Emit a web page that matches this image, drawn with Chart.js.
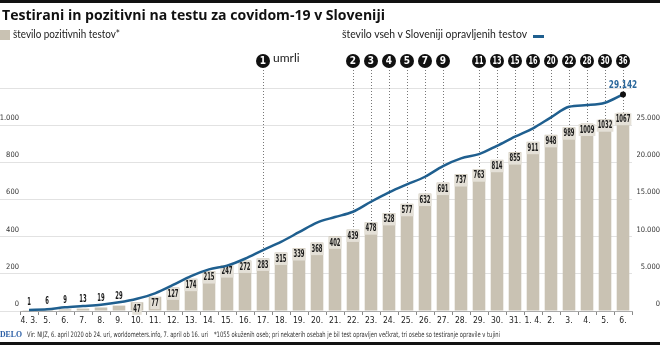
<!DOCTYPE html>
<html><head><meta charset="utf-8">
<script src="https://cdn.jsdelivr.net/npm/chart.js@4"></script>
<style>
html,body{margin:0;padding:0;background:#fff;}
#wrap{position:relative;width:660px;height:345px;overflow:hidden;background:#fff;}
#c{position:absolute;left:0;top:0;}
.bar{position:absolute;left:0;width:660px;height:3px;background:#111;}
.t{position:absolute;white-space:nowrap;transform-origin:0 0;line-height:1;}
.n{font-family:'DejaVu Sans Condensed',Roboto,sans-serif;}
</style></head><body>
<div id="wrap">
<canvas id="c" width="660" height="345"></canvas>
<div class="bar" style="top:0"></div>
<div class="t" data-w="383" style="left:2px;top:7px;font-family:'Open Sans';font-weight:700;font-size:15px;color:#111;">Testirani in pozitivni na testu za covidom-19 v Sloveniji</div>
<div style="position:absolute;left:0;top:30px;width:10px;height:10px;background:#c9c2b3"></div>
<div class="t" data-w="107" style="left:13px;top:28px;font-family:Lato;font-size:11px;color:#222">število pozitivnih testov*</div>
<div class="t" data-w="185" style="left:342px;top:28px;font-family:Lato;font-size:11px;color:#222">število vseh v Sloveniji opravljenih testov</div>
<div style="position:absolute;left:533px;top:35px;width:11px;height:3px;background:#1f5f8f"></div>
<div class="t" data-w="22" style="left:0;top:330px;font-family:'Liberation Serif';font-weight:700;font-size:9px;color:#2a5ea5;">DELO</div>
<div class="t n" data-w="181" style="left:27px;top:331px;font-size:7.5px;color:#333">Vir: NIJZ, 6. april 2020 ob 24. uri, worldometers.info, 7. april ob 16. uri</div>
<div class="t n" data-w="286" style="left:214px;top:331px;font-size:7.5px;color:#333">*1055 okuženih oseb; pri nekaterih osebah je bil test opravljen večkrat, tri osebe so testiranje opravile v tujini</div>
<div class="bar" style="top:342px"></div>
</div>
<script>
const categories = ['4. 3.','5.','6.','7.','8.','9.','10.','11.','12.','13.','14.','15.','16.','17.','18.','19.','20.','21.','22.','23.','24.','25.','26.','27.','28.','29.','30.','31.','1. 4.','2.','3.','4.','5.','6.'];
const positiveTests = [1,6,9,13,19,29,47,77,127,174,215,247,272,283,315,339,368,402,439,478,528,577,632,691,737,763,814,855,911,948,989,1009,1032,1067];
const totalTests = [150,230,500,670,850,1170,1650,2380,3500,4700,5600,6100,7030,8200,9300,10600,11900,12640,13350,14700,15960,17040,18060,19500,20540,21100,22230,23450,24570,26050,27480,27700,28020,29142];
const deathIndex = [13,18,19,20,21,22,23,25,26,27,28,29,30,31,32,33];
const deathCounts = ['1','2','3','4','5','7','9','11','13','15','16','20','22','28','30','36'];
const leftMax = 1200, leftStep = 200;
const rightMax = 30000, rightStep = 5000;

const BAR = '#c9c2b3', LINE = '#1f5f8f';
const NARROW = "'DejaVu Sans Condensed',Roboto,sans-serif";
const fmt = n => String(n).replace(/\B(?=(\d{3})+(?!\d))/g, '.');

document.querySelectorAll('.t[data-w]').forEach(el => {
  const w = el.getBoundingClientRect().width;
  el.style.transform = 'scaleX(' + (parseFloat(el.dataset.w) / w) + ')';
});

function drawText(ctx, text, x, y, font, sx, color) {
  ctx.save();
  ctx.font = font;
  ctx.fillStyle = color;
  ctx.textAlign = 'center';
  ctx.textBaseline = 'middle';
  ctx.translate(x, y);
  ctx.scale(sx, 1);
  ctx.fillText(text, 0, 0);
  ctx.restore();
}

const annot = {
  id: 'annot',
  beforeDatasetsDraw(chart) {
    const ctx = chart.ctx, xs = chart.scales.x, meta = chart.getDatasetMeta(0);
    const cy = chart.chartArea.top - 27;
    ctx.save();
    ctx.strokeStyle = '#777'; ctx.lineWidth = 1; ctx.setLineDash([1, 2]);
    deathIndex.forEach(i => {
      const px = Math.round(xs.getPixelForValue(i)) + 0.5;
      ctx.beginPath(); ctx.moveTo(px, cy + 9); ctx.lineTo(px, meta.data[i].y); ctx.stroke();
    });
    ctx.restore();
  },
  afterDatasetDraw(chart, args) {
    if (args.index !== 0) return;
    const ctx = chart.ctx, meta = chart.getDatasetMeta(0);
    const font = "bold 10.5px " + NARROW, sx = 0.56;
    meta.data.forEach((bar, i) => {
      const txt = String(positiveTests[i]);
      if (i < 6) {
        drawText(ctx, txt, bar.x, bar.y - 9, font, sx, '#1a1a1a');
      } else {
        ctx.save(); ctx.font = font;
        const w = ctx.measureText(txt).width * sx + 2;
        ctx.fillStyle = '#e4e0d7';
        ctx.fillRect(bar.x - w / 2, bar.y + 0.5, w, 12);
        ctx.restore();
        drawText(ctx, txt, bar.x, bar.y + 6.5, font, sx, '#1a1a1a');
      }
    });
  },
  afterDraw(chart) {
    const ctx = chart.ctx, xs = chart.scales.x;
    const cy = chart.chartArea.top - 27;
    deathIndex.forEach((i, k) => {
      const px = xs.getPixelForValue(i);
      ctx.save();
      ctx.fillStyle = '#111';
      ctx.beginPath(); ctx.arc(px, cy, 7, 0, Math.PI * 2); ctx.fill();
      ctx.restore();
      const two = deathCounts[k].length > 1;
      drawText(ctx, deathCounts[k], px, cy + 0.5, "bold 10px " + NARROW, two ? 0.72 : 1, '#fff');
    });
    const p0 = xs.getPixelForValue(deathIndex[0]);
    ctx.save();
    ctx.font = "12px Lato"; ctx.fillStyle = '#222'; ctx.textBaseline = 'alphabetic'; ctx.textAlign = 'left';
    ctx.fillText('umrli', p0 + 10, cy + 1);
    ctx.restore();
    const lm = chart.getDatasetMeta(1);
    const last = lm.data[lm.data.length - 1];
    drawText(ctx, fmt(totalTests[totalTests.length - 1]), last.x, last.y - 9, "bold 10.5px " + NARROW, 0.78, '#2b689c');
  }
};

const lastIdx = totalTests.length - 1;
new Chart(document.getElementById('c'), {
  data: {
    labels: categories,
    datasets: [
      { type: 'bar', data: positiveTests, yAxisID: 'y', backgroundColor: BAR, barPercentage: 0.7, categoryPercentage: 1, order: 1 },
      { type: 'line', data: totalTests, yAxisID: 'y1', borderColor: LINE, borderWidth: 2.5, cubicInterpolationMode: 'monotone',
        pointRadius: totalTests.map((v, i) => i === lastIdx ? 3 : 0), pointBackgroundColor: '#111', pointBorderWidth: 0, clip: false, order: 0 }
    ]
  },
  options: {
    responsive: false, animation: false, devicePixelRatio: 1,
    layout: { padding: { top: 88, bottom: 18, left: 0, right: 0 } },
    plugins: { legend: { display: false }, tooltip: { enabled: false } },
    scales: {
      x: {
        type: 'category', offset: true,
        grid: { drawOnChartArea: false, drawTicks: true, tickLength: 4, color: '#888', offset: true },
        border: { display: true, color: '#aaa' },
        ticks: { font: { family: NARROW, size: 8.5 }, color: '#222', padding: 1, maxRotation: 0, autoSkip: false },
        afterFit: a => { a.height = 16; }
      },
      y: {
        position: 'left', min: 0, max: leftMax,
        grid: { color: '#e2e2e2', drawTicks: true, tickLength: 20 },
        border: { display: false },
        ticks: { stepSize: leftStep, padding: -19, labelOffset: -7, color: '#333',
          font: { family: NARROW, size: 7.5 },
          callback: v => v >= leftMax ? '' : fmt(v) },
        afterFit: a => { a.width = 20; }
      },
      y1: {
        position: 'right', min: 0, max: rightMax,
        grid: { drawOnChartArea: false, drawTicks: false },
        border: { display: false },
        ticks: { stepSize: rightStep, crossAlign: 'far', labelOffset: -7, color: '#333',
          font: { family: NARROW, size: 7.5 },
          callback: v => v >= rightMax ? '' : fmt(v) },
        afterFit: a => { a.width = 28; }
      }
    }
  },
  plugins: [annot]
});
</script>
</body></html>
